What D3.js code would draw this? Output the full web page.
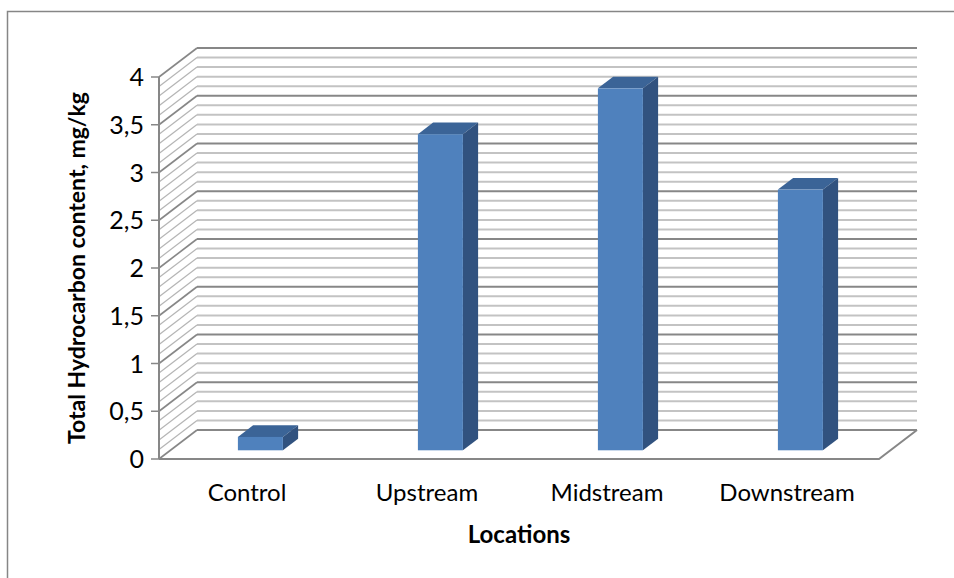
<!DOCTYPE html>
<html lang="en"><head>
<meta charset="utf-8">
<title>Total Hydrocarbon content</title>
<script src="https://cdnjs.cloudflare.com/ajax/libs/d3/7.8.5/d3.min.js"></script>
<style>
body { margin: 0; background: #fff; }
text { font-family: Lato, "Open Sans", sans-serif; fill: #000; }
</style>
</head>
<body>
<div id="chart"></div>
<script>
// values
var categories = ["Control", "Upstream", "Midstream", "Downstream"];
var values = [0.14, 3.31, 3.79, 2.73];
var tickValues = [0, 0.5, 1, 1.5, 2, 2.5, 3, 3.5, 4];
var tickLabels = ["0", "0,5", "1", "1,5", "2", "2,5", "3", "3,5", "4"];

var W = 954, H = 578;
var DX = 38, DY = 29;          // depth offset of the back wall
var d1 = 0.3, d2 = 0.7;        // bar depth (fraction of the floor)

var svg = d3.select("#chart").append("svg").attr("width", W).attr("height", H);

svg.append("rect").attr("x", 7.5).attr("y", 11.5).attr("width", 960).attr("height", 600)
  .attr("fill", "none").attr("stroke", "#868686").attr("stroke-width", 1.5);

var x = d3.scaleBand().domain(categories).range([159, 879]);
var y = d3.scaleLinear().domain([0, 4]).range([459, 77]);

// grid lines every 0.1, darker every 0.5
var grid = d3.range(0, 41).map(function(i) { return i / 10; });
var isMajor = function(v) { return Math.abs(v * 2 - Math.round(v * 2)) < 1e-6; };

var wall = svg.append("g");
wall.selectAll("line.back").data(grid).enter().append("line")
  .attr("x1", 159 + DX).attr("x2", 879 + DX)
  .attr("y1", function(d) { return y(d) - DY; })
  .attr("y2", function(d) { return y(d) - DY; })
  .attr("stroke", function(d) { return isMajor(d) ? "#878787" : "#c3c3c3"; })
  .attr("stroke-width", 2);

wall.selectAll("line.side").data(grid).enter().append("line")
  .attr("x1", 159).attr("x2", 159 + DX)
  .attr("y1", function(d) { return y(d); })
  .attr("y2", function(d) { return y(d) - DY; })
  .attr("stroke", function(d) { return isMajor(d) ? "#878787" : "#b5b5b5"; })
  .attr("stroke-width", function(d) { return isMajor(d) ? 1.6 : 1.2; });

// floor
svg.append("path")
  .attr("d", "M159," + y(0) + "L879," + y(0) + "L" + (879 + DX) + "," + (y(0) - DY))
  .attr("fill", "none").attr("stroke", "#878787").attr("stroke-width", 2);

// value axis
svg.append("line").attr("x1", 159).attr("x2", 159).attr("y1", y(4)).attr("y2", y(0))
  .attr("stroke", "#878787").attr("stroke-width", 2);
svg.selectAll("line.tick").data(tickValues).enter().append("line")
  .attr("x1", 151).attr("x2", 159)
  .attr("y1", function(d) { return y(d); }).attr("y2", function(d) { return y(d); })
  .attr("stroke", "#878787").attr("stroke-width", 1.5);
svg.selectAll("text.tick").data(tickValues).enter().append("text")
  .attr("x", 144).attr("y", function(d) { return y(d); })
  .attr("dy", "0.36em").attr("text-anchor", "end").style("font-size", "25px")
  .text(function(d, i) { return tickLabels[i]; });

// 3d bars
var bw = x.bandwidth() * 0.25;
var bars = svg.selectAll("g.bar").data(categories).enter().append("g");
bars.each(function(c, i) {
  var g = d3.select(this);
  var x0 = x(c) + x.bandwidth() / 2 - bw / 2 + d1 * DX;
  var yb = y(0) - d1 * DY, yt = y(values[i]) - d1 * DY;
  var ox = (d2 - d1) * DX, oy = (d2 - d1) * DY;
  g.append("path").attr("fill", "#3b6497")
    .attr("d", "M" + x0 + "," + yt + "L" + (x0 + ox) + "," + (yt - oy) + "L" + (x0 + bw + ox) + "," + (yt - oy) + "L" + (x0 + bw) + "," + yt + "Z");
  g.append("path").attr("fill", "#31527f")
    .attr("d", "M" + (x0 + bw) + "," + yt + "L" + (x0 + bw + ox) + "," + (yt - oy) + "L" + (x0 + bw + ox) + "," + (yb - oy) + "L" + (x0 + bw) + "," + yb + "Z");
  g.append("rect").attr("fill", "#4f81bd")
    .attr("x", x0).attr("y", yt).attr("width", bw).attr("height", yb - yt);
});

// category labels
svg.selectAll("text.cat").data(categories).enter().append("text")
  .attr("x", function(d) { return x(d) + x.bandwidth() / 2 - 2; })
  .attr("y", 501).attr("text-anchor", "middle").style("font-size", "24px")
  .text(function(d) { return d; });

svg.append("text").attr("x", 519).attr("y", 543).attr("text-anchor", "middle")
  .style("font-size", "24px").style("font-weight", "bold").text("Locations");

svg.append("text")
  .attr("transform", "translate(85," + (y(2)) + ") rotate(-90)")
  .attr("text-anchor", "middle").style("font-size", "23px").style("font-weight", "bold")
  .text("Total Hydrocarbon content, mg/kg");
</script>
</body></html>
